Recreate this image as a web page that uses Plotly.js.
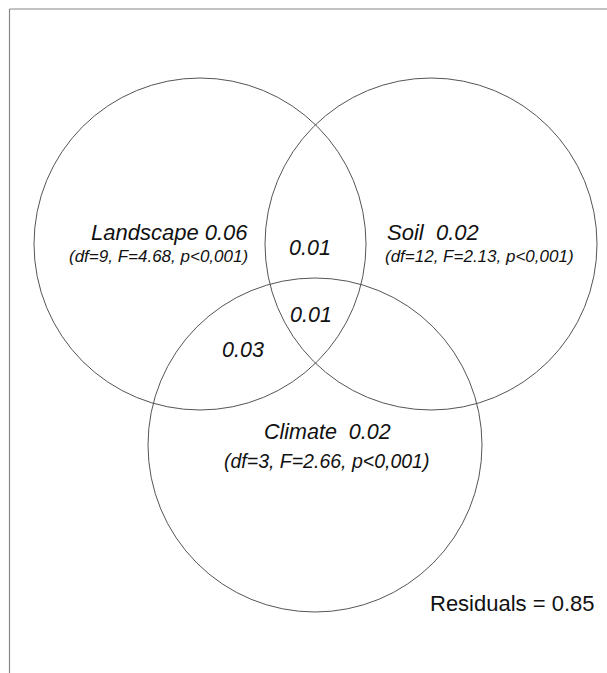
<!DOCTYPE html>
<html>
<head>
<meta charset="utf-8">
<script src="https://cdn.plot.ly/plotly-3.0.1.min.js"></script>
<style>html,body{margin:0;padding:0;background:#fff;}#chart{width:607px;height:673px;}</style>
</head>
<body>
<div id="chart"></div>
<script>
// Data
const sets = ["Landscape", "Soil", "Climate"];
const uniqueFractions = [0.06, 0.02, 0.02];
const dfs = [9, 12, 3];
const fStats = [4.68, 2.13, 2.66];
const pLabels = ["p<0,001", "p<0,001", "p<0,001"];
const overlapLabels = ["Landscape∩Soil", "Landscape∩Soil∩Climate", "Landscape∩Climate"];
const overlapFractions = [0.01, 0.01, 0.03];
const residuals = 0.85;

// Layout geometry (pixel space)
const circleGeom = [
  {cx: 200, cy: 244, r: 166},
  {cx: 431, cy: 244, r: 166},
  {cx: 315, cy: 445, r: 167}
];
const setLabelPos = [
  {x: 250, y: 232, anchor: "right", size: 22},
  {x: 385, y: 232, anchor: "left", size: 22},
  {x: 327, y: 432, anchor: "center", size: 21.5}
];
const statLabelPos = [
  {x: 250, y: 256, anchor: "right", size: 17},
  {x: 383, y: 256, anchor: "left", size: 17},
  {x: 326, y: 461, anchor: "center", size: 19.5}
];
const overlapPos = [
  {x: 310, y: 248},
  {x: 311, y: 315},
  {x: 243, y: 350}
];

const fam = "Liberation Sans, Arial, sans-serif";
const shapes = [];
const lineCol = "#555";
circleGeom.forEach(c => {
  shapes.push({type: "circle", xref: "x", yref: "y",
    x0: c.cx - c.r, x1: c.cx + c.r, y0: c.cy - c.r, y1: c.cy + c.r,
    line: {color: lineCol, width: 1}, fillcolor: "rgba(0,0,0,0)"});
});
// frame (top and left)
shapes.push({type: "line", xref: "x", yref: "y", x0: 9.5, x1: 607, y0: 9, y1: 9, line: {color: "#888", width: 1.2}});
shapes.push({type: "line", xref: "x", yref: "y", x0: 9.5, x1: 9.5, y0: 9, y1: 673, line: {color: "#888", width: 1.2}});

const annotations = [];
sets.forEach((s, i) => {
  const sep = (i === 0) ? " " : "  ";
  annotations.push({x: setLabelPos[i].x, y: setLabelPos[i].y, xref: "x", yref: "y",
    text: "<i>" + s + sep + uniqueFractions[i].toFixed(2) + "</i>", showarrow: false,
    xanchor: setLabelPos[i].anchor, yanchor: "middle", font: {family: fam, size: setLabelPos[i].size, color: "#111"}});
  annotations.push({x: statLabelPos[i].x, y: statLabelPos[i].y, xref: "x", yref: "y",
    text: "<i>(df=" + dfs[i] + ", F=" + fStats[i].toFixed(2) + ", " + pLabels[i] + ")</i>", showarrow: false,
    xanchor: statLabelPos[i].anchor, yanchor: "middle", font: {family: fam, size: statLabelPos[i].size, color: "#111"}});
});
overlapFractions.forEach((v, i) => {
  annotations.push({x: overlapPos[i].x, y: overlapPos[i].y, xref: "x", yref: "y",
    text: "<i>" + v.toFixed(2) + "</i>", showarrow: false, xanchor: "center", yanchor: "middle",
    font: {family: fam, size: 21.5, color: "#111"}});
});
annotations.push({x: 428, y: 603, xref: "x", yref: "y", text: "Residuals = " + residuals.toFixed(2),
  showarrow: false, xanchor: "left", yanchor: "middle", font: {family: fam, size: 22, color: "#111"}});

const layout = {
  width: 607, height: 673,
  margin: {l: 0, r: 0, t: 0, b: 0},
  paper_bgcolor: "#fff", plot_bgcolor: "#fff",
  xaxis: {range: [0, 607], visible: false, fixedrange: true},
  yaxis: {range: [673, 0], visible: false, fixedrange: true},
  showlegend: false,
  shapes: shapes,
  annotations: annotations
};
Plotly.newPlot("chart", [{x: [], y: [], type: "scatter", mode: "markers", hoverinfo: "skip"}], layout, {staticPlot: true});
</script>
</body>
</html>
